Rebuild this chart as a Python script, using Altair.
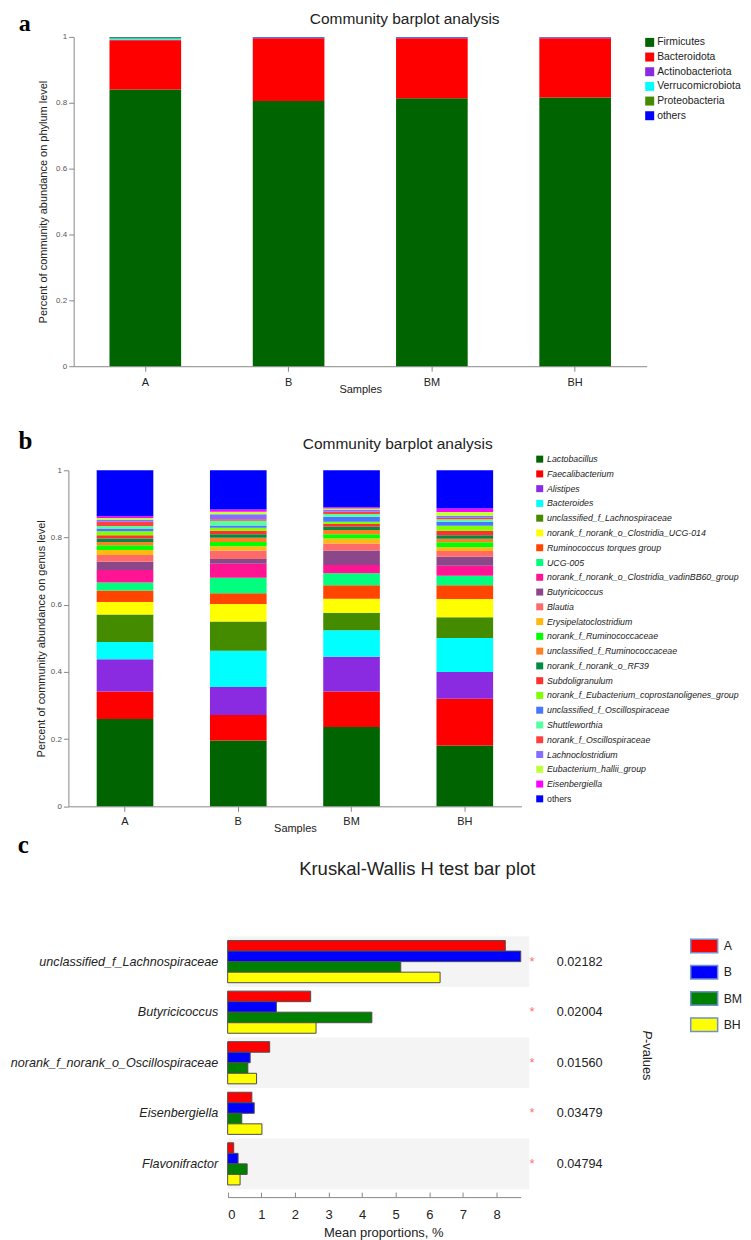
import altair as alt
import pandas as pd

SANS = "Liberation Sans"
SERIF = "Liberation Serif"

# ---------------- data ----------------
samples = ["A", "B", "BM", "BH"]

phyla = ["Firmicutes", "Bacteroidota", "Actinobacteriota", "Verrucomicrobiota",
         "Proteobacteria", "others"]
phylum_colors = ["#006400", "#ff0000", "#8a2be2", "#00ffff", "#458b00", "#0000ff"]
phylum_A = [0.840, 0.150, 0.001, 0.004, 0.004, 0.001]
phylum_B = [0.805, 0.191, 0.001, 0.0005, 0.0005, 0.002]
phylum_BM = [0.814, 0.182, 0.0005, 0.001, 0.0005, 0.002]
phylum_BH = [0.816, 0.180, 0.002, 0.0005, 0.0005, 0.001]

genera = ["Lactobacillus", "Faecalibacterium", "Alistipes", "Bacteroides",
          "unclassified_f_Lachnospiraceae", "norank_f_norank_o_Clostridia_UCG-014",
          "Ruminococcus torques group", "UCG-005",
          "norank_f_norank_o_Clostridia_vadinBB60_group", "Butyricicoccus", "Blautia",
          "Erysipelatoclostridium", "norank_f_Ruminococcaceae",
          "unclassified_f_Ruminococcaceae", "norank_f_norank_o_RF39", "Subdoligranulum",
          "norank_f_Eubacterium_coprostanoligenes_group", "unclassified_f_Oscillospiraceae",
          "Shuttleworthia", "norank_f_Oscillospiraceae", "Lachnoclostridium",
          "Eubacterium_hallii_group", "Eisenbergiella", "others"]
genus_colors = ["#006400", "#ff0000", "#8a2be2", "#00ffff", "#458b00", "#ffff00",
                "#ff4500", "#00ff7f", "#ff1493", "#8b4789", "#ff6a6a", "#ffb90f",
                "#00ff00", "#ff7f24", "#008b45", "#ff3030", "#7fff00", "#4876ff",
                "#54ff9f", "#ff4040", "#8470ff", "#c0ff3e", "#ff00ff", "#0000ff"]
genus_A = [0.260, 0.082, 0.096, 0.051, 0.082, 0.037, 0.034, 0.024, 0.037, 0.025, 0.020, 0.015,
           0.014, 0.010, 0.010, 0.010, 0.012, 0.008, 0.007, 0.013, 0.006, 0.005, 0.005, 0.137]
genus_B = [0.196, 0.076, 0.083, 0.108, 0.087, 0.052, 0.032, 0.046, 0.042, 0.014, 0.025, 0.013,
           0.013, 0.012, 0.011, 0.010, 0.009, 0.007, 0.014, 0.004, 0.015, 0.0075, 0.007, 0.1165]
genus_BM = [0.236, 0.106, 0.103, 0.079, 0.052, 0.042, 0.040, 0.036, 0.024, 0.043, 0.021, 0.015,
            0.013, 0.012, 0.010, 0.008, 0.007, 0.015, 0.008, 0.007, 0.005, 0.004, 0.004, 0.110]
genus_BH = [0.181, 0.139, 0.080, 0.101, 0.062, 0.054, 0.041, 0.028, 0.030, 0.027, 0.017, 0.011,
            0.015, 0.010, 0.011, 0.013, 0.015, 0.012, 0.007, 0.005, 0.005, 0.012, 0.010, 0.114]

kw_genera = ["unclassified_f_Lachnospiraceae", "Butyricicoccus",
             "norank_f_norank_o_Oscillospiraceae", "Eisenbergiella", "Flavonifractor"]
kw_groups = ["A", "B", "BM", "BH"]
kw_colors = ["#ff0000", "#0000ff", "#008000", "#ffff00"]
kw_A = [8.26, 2.47, 1.25, 0.72, 0.18]
kw_B = [8.72, 1.45, 0.67, 0.79, 0.31]
kw_BM = [5.15, 4.29, 0.60, 0.42, 0.58]
kw_BH = [6.32, 2.63, 0.86, 1.02, 0.37]
kw_p = ["0.02182", "0.02004", "0.01560", "0.03479", "0.04794"]

NO_FRAME = alt.ViewBackground(stroke="transparent", strokeWidth=0)


# ---------------- helpers ----------------
def stack_frame(names, series):
    rows = []
    for s, vals in zip(samples, series):
        for i, (n, v) in enumerate(zip(names, vals)):
            rows.append({"sample": s, "taxon": n, "value": v, "idx": i})
    return pd.DataFrame(rows)


def text_layer(text, x, y, size, font=SANS, weight="normal", style="normal",
               align="center", baseline="middle", angle=0, color="#222222"):
    return alt.Chart(pd.DataFrame({"t": [text]})).mark_text(
        font=font, fontSize=size, fontWeight=weight, fontStyle=style,
        align=align, baseline=baseline, angle=angle, color=color
    ).encode(text="t:N", x=alt.value(x), y=alt.value(y))


def top_anchor(y):
    # invisible hairline that fixes the top edge of the layout
    return alt.Chart(pd.DataFrame({"t": [0]})).mark_rule(opacity=0, strokeWidth=0).encode(
        x=alt.value(0), x2=alt.value(1), y=alt.value(y))


def stacked_bars(df, names, colors, y_title, x_scale, y_offset, y_title_pad,
                 label_pad, legend):
    return alt.Chart(df).mark_bar().encode(
        x=alt.X("sample:N", sort=samples, scale=x_scale, axis=alt.Axis(
            title="Samples", labelAngle=0, labelFont=SANS, labelFontSize=11,
            labelColor="#222222", tickSize=5, tickColor="#888888", domainColor="#888888",
            labelPadding=label_pad, titleFont=SANS, titleFontSize=11,
            titleFontWeight="normal", titleColor="#222222", titlePadding=-3.5)),
        y=alt.Y("value:Q", stack="zero", scale=alt.Scale(domain=[0, 1], nice=False),
                axis=alt.Axis(
                    title=y_title, values=[0, 0.2, 0.4, 0.6, 0.8, 1],
                    labelExpr="'' + datum.value", offset=y_offset, grid=False,
                    labelFont=SANS, labelFontSize=8, labelColor="#555555", labelPadding=2,
                    tickSize=5, tickColor="#888888", domainColor="#888888",
                    titleFont=SANS, titleFontSize=11, titleFontWeight="normal",
                    titleColor="#222222", titlePadding=y_title_pad)),
        color=alt.Color("taxon:N", scale=alt.Scale(domain=names, range=colors),
                        legend=legend),
        order=alt.Order("idx:Q", sort="ascending"),
    )


# ---------------- panel a ----------------
df_a = stack_frame(phyla, [phylum_A, phylum_B, phylum_BM, phylum_BH])
leg_a = alt.Legend(title=None, orient="none", legendX=577.3, legendY=0.3,
                   direction="vertical", symbolType="square", symbolSize=81,
                   symbolStrokeWidth=0, labelFont=SANS, labelFontSize=10.4,
                   labelColor="#222222", labelOffset=2.3, rowPadding=3.7, padding=0,
                   labelLimit=300, symbolLimit=50)
bars_a = stacked_bars(df_a, phyla, phylum_colors,
                      "Percent of community abundance on phylum level",
                      alt.Scale(range=[5.3, 579.6], paddingInner=0.5, paddingOuter=0.25),
                      -5.3, 6.8, 5, leg_a)
panel_a = alt.layer(
    top_anchor(-30),
    bars_a,
    text_layer("Community barplot analysis", 337, -17.7, 15.5),
    text_layer("a", -43.8, -6, 24, font=SERIF, weight="bold", baseline="alphabetic",
               color="#000000"),
).properties(width=579.6, height=330, view=NO_FRAME)

# ---------------- panel b ----------------
df_b = stack_frame(genera, [genus_A, genus_B, genus_BM, genus_BH])
leg_b = alt.Legend(title=None, orient="none", legendX=467.9, legendY=-15.6,
                   direction="vertical", symbolType="square", symbolSize=49,
                   symbolStrokeWidth=0, labelFont=SANS, labelFontSize=8.8,
                   labelFontStyle={"expr": "datum.value === 'others' ? 'normal' : 'italic'"},
                   labelColor="#222222", labelOffset=2.9, rowPadding=4.8, padding=0,
                   labelLimit=400, symbolLimit=50)
bars_b = stacked_bars(df_b, genera, genus_colors,
                      "Percent of community abundance on genus level",
                      alt.Scale(paddingInner=0.5, paddingOuter=0.25),
                      0, 3.4, 3.8, leg_b)
panel_b = alt.layer(
    bars_b,
    text_layer("Community barplot analysis", 330, -26, 15.5),
    text_layer("b", -43, -21.7, 25, font=SERIF, weight="bold", baseline="alphabetic",
               color="#000000"),
).properties(width=454, height=336.7, view=NO_FRAME)

# ---------------- panel c ----------------
kw_rows = []
for g, vals in zip(kw_groups, [kw_A, kw_B, kw_BM, kw_BH]):
    for name, v in zip(kw_genera, vals):
        kw_rows.append({"genus": name, "group": g, "value": v})
kw_df = pd.DataFrame(kw_rows)
pv_df = pd.DataFrame({"genus": kw_genera, "p": kw_p})
stripe_df = pd.DataFrame({"genus": kw_genera[0::2]})

y_c = alt.Y("genus:N", sort=kw_genera,
            scale=alt.Scale(domain=kw_genera, range=[25.7, 279], paddingInner=0,
                            paddingOuter=0),
            axis=alt.Axis(title=None, offset=-159.6, domain=False, ticks=False, tickSize=0,
                          grid=False, labelPadding=10, labelFont=SANS, labelFontSize=12.6,
                          labelFontStyle="italic", labelColor="#222222", labelLimit=400))

leg_c = alt.Legend(title=None, orient="none", legendX=629.6, legendY=27.9,
                   direction="vertical", symbolType="M-2,-1H2V1H-2Z", symbolSize=182.25,
                   symbolStrokeColor="#6f8fcf", symbolStrokeWidth=1.5,
                   labelFont=SANS, labelFontSize=12.3, labelColor="#222222",
                   labelOffset=12, rowPadding=5.3, padding=0)

stripes_c = alt.Chart(stripe_df).mark_rect(color="#f4f4f4").encode(
    y=y_c, x=alt.value(159.6), x2=alt.value(461.8))

bars_c = alt.Chart(kw_df).mark_bar(stroke="#4d4d4d", strokeWidth=1).encode(
    y=y_c,
    yOffset=alt.YOffset("group:N", sort=kw_groups,
                        scale=alt.Scale(domain=kw_groups, paddingInner=0, paddingOuter=0.4)),
    x=alt.X("value:Q", scale=alt.Scale(range=[159.6, 453.3], nice=False, zero=True),
            axis=alt.Axis(orient="bottom", offset=8, values=list(range(9)), domain=False,
                          ticks=False, tickSize=0, labelPadding=11, labelFont=SANS,
                          labelFontSize=13, labelColor="#222222", grid=False,
                          title="Mean proportions, %", titleFont=SANS, titleFontSize=13,
                          titleFontWeight="normal", titleColor="#222222", titleX=315.5,
                          titlePadding=5)),
    color=alt.Color("group:N", scale=alt.Scale(domain=kw_groups, range=kw_colors),
                    legend=leg_c),
)

ticks_c = alt.Chart(kw_df).mark_point(opacity=0).encode(
    x=alt.X("value:Q", axis=alt.Axis(orient="top", offset=-287, values=list(range(9)),
                                     labels=False, title=None, tickSize=5,
                                     tickColor="#888888", domainColor="#888888",
                                     grid=False)))

stars_c = alt.Chart(pv_df).mark_text(text="*", font=SANS, fontSize=13, color="#ff7070",
                                     align="center", baseline="middle").encode(
    y=y_c, x=alt.value(464.6))

pvals_c = alt.Chart(pv_df).mark_text(font=SANS, fontSize=12.7, color="#222222",
                                     align="left", baseline="middle").encode(
    y=y_c, text="p:N", x=alt.value(489.4))

panel_c = alt.layer(
    stripes_c, bars_c, ticks_c, stars_c, pvals_c,
    text_layer("Kruskal-Wallis H test bar plot", 349.6, -42, 18.5),
    text_layer("c", -45.1, -57.7, 25, font=SERIF, weight="bold", baseline="alphabetic",
               color="#000000"),
    text_layer("P", 579.6, 120, 12.9, style="italic", align="left", angle=90),
    text_layer("-values", 579.6, 128.6, 12.9, align="left", angle=90),
).resolve_axis(x="independent").properties(width=461.8, height=279, view=NO_FRAME)

chart = alt.vconcat(panel_a, panel_b, panel_c, spacing=104.3, bounds="flush").resolve_scale(
    color="independent"
).properties(
    padding={"left": 1.5, "top": -2.3, "right": 0, "bottom": 0}
).configure_view(stroke="transparent", strokeWidth=0).configure(font=SANS)

chart.save("out.html", embed_options={"renderer": "svg", "actions": False})
